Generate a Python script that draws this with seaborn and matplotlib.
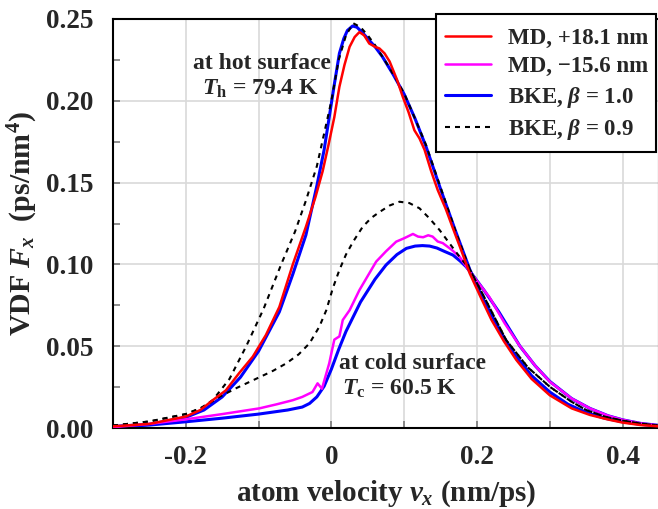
import numpy as np
import pandas as pd
import matplotlib
matplotlib.use("Agg")
import matplotlib.pyplot as plt
import matplotlib.patches as mpatches
import seaborn as sns

# ---------------- data ----------------
# MD, +18.1 nm (hot side)
v_md_hot = [-0.30, -0.25, -0.20, -0.18, -0.163, -0.145, -0.127, -0.108, -0.090, -0.0715,
            -0.053, -0.035, -0.022, -0.012, -0.004, 0.004, 0.011, 0.018, 0.025, 0.032,
            0.0385, 0.045, 0.052, 0.060, 0.066, 0.073, 0.080, 0.090, 0.098, 0.106,
            0.114, 0.121, 0.128, 0.137, 0.146, 0.157, 0.167, 0.178, 0.19, 0.205,
            0.22, 0.237, 0.254, 0.275, 0.30, 0.33, 0.355, 0.38, 0.40, 0.425, 0.45]
F_md_hot = [0.001, 0.0025, 0.007, 0.011, 0.017, 0.023, 0.0334, 0.0436, 0.0568, 0.074,
            0.100, 0.123, 0.141, 0.157, 0.173, 0.190, 0.2086, 0.222, 0.233, 0.239,
            0.242, 0.240, 0.235, 0.233, 0.232, 0.229, 0.224, 0.213, 0.2025, 0.193,
            0.182, 0.177, 0.170, 0.157, 0.1455, 0.134, 0.122, 0.109, 0.0945, 0.080,
            0.066, 0.053, 0.0416, 0.030, 0.020, 0.012, 0.008, 0.0052, 0.0033, 0.0018, 0.001]

# MD, -15.6 nm (cold side)
v_md_cold = [-0.30, -0.25, -0.20, -0.15, -0.099, -0.075, -0.053, -0.04, -0.026, -0.019,
             -0.013, -0.003, 0.004, 0.011, 0.0156, 0.025, 0.0385, 0.05, 0.0615, 0.075,
             0.089, 0.10, 0.112, 0.119, 0.126, 0.133, 0.139, 0.146, 0.153, 0.165,
             0.176, 0.192, 0.217, 0.238, 0.259, 0.28, 0.30, 0.33, 0.355, 0.38,
             0.40, 0.425, 0.45]
F_md_cold = [0.0005, 0.0025, 0.0053, 0.0085, 0.012, 0.0145, 0.017, 0.019, 0.022, 0.0273,
             0.024, 0.0395, 0.054, 0.056, 0.066, 0.072, 0.0843, 0.093, 0.1017, 0.108,
             0.1139, 0.116, 0.1186, 0.117, 0.1166, 0.1178, 0.117, 0.114, 0.113, 0.109,
             0.1047, 0.0945, 0.080, 0.064, 0.050, 0.038, 0.0283, 0.018, 0.012, 0.0075,
             0.005, 0.0028, 0.0015]

# BKE, beta = 1.0 (hot side)
v_bke1_hot = [-0.30, -0.25, -0.20, -0.175, -0.15, -0.125, -0.10, -0.0715, -0.053, -0.035,
              -0.02, -0.01, -0.003, 0.004, 0.011, 0.017, 0.022, 0.029, 0.035, 0.042,
              0.05, 0.06, 0.07, 0.085, 0.10, 0.115, 0.13, 0.15, 0.17, 0.19,
              0.205, 0.22, 0.235, 0.25, 0.275, 0.30, 0.325, 0.35, 0.375, 0.40,
              0.425, 0.45]
F_bke1_hot = [0.001, 0.0022, 0.0065, 0.011, 0.019, 0.031, 0.047, 0.071, 0.094, 0.118,
              0.148, 0.170, 0.190, 0.210, 0.229, 0.238, 0.243, 0.2457, 0.245, 0.242,
              0.238, 0.233, 0.227, 0.216, 0.204, 0.189, 0.172, 0.146, 0.121, 0.097,
              0.082, 0.069, 0.057, 0.046, 0.032, 0.022, 0.0145, 0.0095, 0.006, 0.0038,
              0.0022, 0.0013]

# BKE, beta = 1.0 (cold side)
v_bke1_cold = [-0.30, -0.25, -0.20, -0.15, -0.10, -0.06, -0.04, -0.03, -0.02, -0.01,
               0.0, 0.01, 0.02, 0.03, 0.04, 0.05, 0.06, 0.075, 0.09, 0.103,
               0.115, 0.125, 0.135, 0.145, 0.155, 0.167, 0.177, 0.185, 0.195, 0.21,
               0.23, 0.259, 0.28, 0.30, 0.33, 0.355, 0.38, 0.40, 0.425, 0.45]
F_bke1_cold = [0.0005, 0.0018, 0.0038, 0.0060, 0.0085, 0.011, 0.0128, 0.0150, 0.0190, 0.0255,
               0.036, 0.048, 0.059, 0.068, 0.077, 0.084, 0.091, 0.0996, 0.106, 0.1098,
               0.1112, 0.1115, 0.1112, 0.110, 0.108, 0.1057, 0.102, 0.0986, 0.093, 0.084,
               0.071, 0.050, 0.038, 0.0285, 0.018, 0.012, 0.0075, 0.0050, 0.0028, 0.0016]

# BKE, beta = 0.9 (hot side)
v_bke09_hot = [-0.30, -0.25, -0.20, -0.18, -0.163, -0.14, -0.117, -0.093, -0.069, -0.05,
               -0.035, -0.02, -0.01, 0.0, 0.01, 0.02, 0.03, 0.04, 0.05, 0.06,
               0.08, 0.10, 0.115, 0.13, 0.15, 0.17, 0.19, 0.21, 0.24, 0.27,
               0.30, 0.33, 0.35, 0.375, 0.40, 0.425, 0.45]
F_bke09_hot = [0.0015, 0.004, 0.0085, 0.012, 0.017, 0.030, 0.050, 0.073, 0.100, 0.120,
               0.139, 0.160, 0.180, 0.200, 0.225, 0.240, 0.2474, 0.245, 0.240, 0.234,
               0.220, 0.2045, 0.189, 0.173, 0.147, 0.121, 0.097, 0.080, 0.0538, 0.037,
               0.0252, 0.016, 0.011, 0.007, 0.0045, 0.0027, 0.0015]

# BKE, beta = 0.9 (cold side)
v_bke09_cold = [-0.30, -0.25, -0.20, -0.175, -0.154, -0.13, -0.099, -0.08, -0.062, -0.045,
                -0.030, -0.0165, -0.007, 0.002, 0.011, 0.020, 0.03, 0.043, 0.055, 0.066,
                0.08, 0.0935, 0.107, 0.121, 0.135, 0.1486, 0.162, 0.176, 0.19, 0.21,
                0.24, 0.27, 0.30, 0.33, 0.35, 0.375, 0.40, 0.425, 0.45]
F_bke09_cold = [0.0015, 0.004, 0.0085, 0.013, 0.019, 0.0245, 0.031, 0.035, 0.0395, 0.045,
                0.0518, 0.062, 0.072, 0.0855, 0.0966, 0.106, 0.114, 0.123, 0.1285, 0.132,
                0.136, 0.1383, 0.1375, 0.1343, 0.128, 0.121, 0.113, 0.1047, 0.097, 0.080,
                0.0538, 0.037, 0.0252, 0.016, 0.011, 0.007, 0.0045, 0.0027, 0.0015]

x_ticks = [-0.2, -0.1, 0.0, 0.1, 0.2, 0.3, 0.4]
x_ticklabels = ["-0.2", "", "0", "", "0.2", "", "0.4"]
y_ticks = [0.00, 0.05, 0.10, 0.15, 0.20, 0.25]
y_ticklabels = ["0.00", "0.05", "0.10", "0.15", "0.20", "0.25"]
y_minor = [0.025, 0.075, 0.125, 0.175, 0.225]

# ---------------- style ----------------
sns.set_theme(style="white")
plt.rcParams["font.family"] = ["Liberation Serif", "DejaVu Serif"]
plt.rcParams["font.weight"] = "bold"
plt.rcParams["mathtext.fontset"] = "custom"
plt.rcParams["mathtext.rm"] = "Liberation Serif:bold"
plt.rcParams["mathtext.it"] = "Liberation Serif:bold:italic"
plt.rcParams["mathtext.bf"] = "Liberation Serif:bold"

W, H = 658, 509
fig = plt.figure(figsize=(W / 100, H / 100), dpi=100)
ax = fig.add_axes([113 / W, (H - 428) / H, (659 - 113) / W, (428 - 19) / H])

blue_kw = dict(color="#0000ff", lw=2.2)
sns.lineplot(x=v_bke1_hot, y=F_bke1_hot, ax=ax, label="BKE, $\\beta$ = 1.0", zorder=2, **blue_kw)
sns.lineplot(x=v_bke1_cold, y=F_bke1_cold, ax=ax, zorder=2, **blue_kw)
sns.lineplot(x=v_md_cold, y=F_md_cold, ax=ax, color="#ff00ff", lw=1.8,
             label="MD, \u221215.6 nm", zorder=3)
sns.lineplot(x=v_bke09_cold, y=F_bke09_cold, ax=ax, color="black", lw=1.5,
             linestyle=(0, (2.4, 2.4)), zorder=4)
sns.lineplot(x=v_bke09_hot, y=F_bke09_hot, ax=ax, color="black", lw=1.5,
             linestyle=(0, (2.4, 2.4)), label="BKE, $\\beta$ = 0.9", zorder=4)
sns.lineplot(x=v_md_hot, y=F_md_hot, ax=ax, color="#ff0000", lw=1.8,
             label="MD, +18.1 nm", zorder=5)

ax.set_xlim(-0.3, 0.45)
ax.set_ylim(0, 0.25)
ax.set_xticks(x_ticks)
ax.set_xticklabels(x_ticklabels)
ax.set_yticks(y_ticks)
ax.set_yticklabels(y_ticklabels)
ax.set_yticks(y_minor, minor=True)
ax.grid(True, which="major", color="#d9d9d9", lw=1.2)
ax.set_axisbelow(True)
ax.tick_params(axis="both", which="both", direction="in", length=5, width=1.1,
               color="#707070", labelsize=19.5)
ax.tick_params(axis="y", which="both", left=True, pad=14)
ax.tick_params(axis="x", which="both", bottom=True, pad=12)
for lab in ax.get_xticklabels() + ax.get_yticklabels():
    lab.set_fontweight("bold")
for s in ["left", "top", "bottom", "right"]:
    ax.spines[s].set_color("black")
    ax.spines[s].set_linewidth(1.5)

ax.set_xlabel("atom velocity $v_x$ (nm/ps)", fontsize=21, fontweight="bold", labelpad=6)
ax.set_ylabel("VDF $F_x$  (ps/nm$^4$)", fontsize=21.5, fontweight="bold", labelpad=4)

# annotations (figure pixel positions)
def ftxt(px, py, s):
    fig.text(px / W, 1 - py / H, s, fontsize=17, fontweight="bold", ha="left", va="baseline")

ftxt(193, 69, "at hot surface")
ftxt(202, 95, "$T_\\mathrm{h}$ = 79.4 K")
ftxt(339, 369, "at cold surface")
ftxt(342, 395, "$T_\\mathrm{c}$ = 60.5 K")

# legend box (drawn separately so the vertical padding can differ from the horizontal)
box = mpatches.Rectangle((436 / W, 1 - 152 / H), (656 - 436) / W, (152 - 14) / H,
                         transform=fig.transFigure, facecolor="white", edgecolor="black",
                         linewidth=1.5, zorder=9, clip_on=False)
ax.add_artist(box)

handles, labels = ax.get_legend_handles_labels()
order = ["MD, +18.1 nm", "MD, \u221215.6 nm", "BKE, $\\beta$ = 1.0", "BKE, $\\beta$ = 0.9"]
hmap = dict(zip(labels, handles))
leg = ax.legend([hmap[k] for k in order], order, loc="upper left",
                bbox_to_anchor=(445 / W, 1 - 28 / H), bbox_transform=fig.transFigure,
                frameon=False,
                prop={"family": "Liberation Serif", "weight": "bold", "size": 16.5},
                handlelength=2.0, handletextpad=0.75, labelspacing=0.32,
                borderpad=0.0, borderaxespad=0)
leg.set_zorder(10)

fig.savefig("out.png", dpi=100)
